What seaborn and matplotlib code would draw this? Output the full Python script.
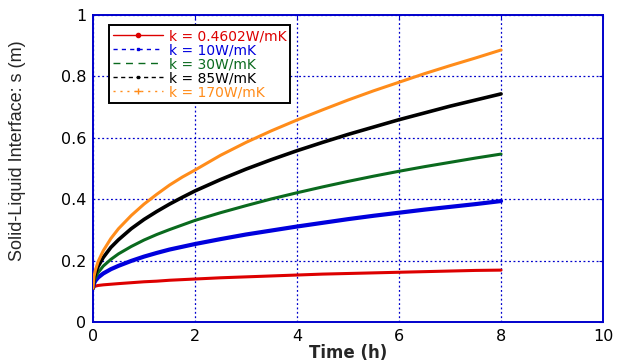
import matplotlib

matplotlib.use("Agg")

import matplotlib.pyplot as plt
import pandas as pd
import seaborn as sns
from matplotlib.lines import Line2D

# time (h) and interface position s (m)
time_h = [0, 0.02, 0.05, 0.1, 0.2, 0.35, 0.5, 0.75, 1, 1.25, 1.5, 1.75, 2,
          2.5, 3, 3.5, 4, 4.5, 5, 5.5, 6, 6.5, 7, 7.5, 8]
s_k0460 = [0.110, 0.115, 0.117, 0.119, 0.121, 0.123, 0.125, 0.128, 0.131, 0.133,
           0.136, 0.138, 0.140, 0.144, 0.147, 0.150, 0.153, 0.156, 0.158, 0.160,
           0.162, 0.164, 0.166, 0.168, 0.169]
s_k10 = [0.110, 0.126, 0.135, 0.145, 0.158, 0.172, 0.183, 0.199, 0.213, 0.225,
         0.236, 0.245, 0.254, 0.270, 0.285, 0.298, 0.311, 0.323, 0.335, 0.346,
         0.356, 0.366, 0.375, 0.384, 0.394]
s_k30 = [0.110, 0.133, 0.146, 0.161, 0.182, 0.204, 0.222, 0.246, 0.267, 0.285,
         0.301, 0.316, 0.331, 0.356, 0.379, 0.401, 0.421, 0.440, 0.458, 0.475,
         0.491, 0.506, 0.520, 0.534, 0.547]
s_k85 = [0.110, 0.142, 0.160, 0.181, 0.210, 0.243, 0.268, 0.304, 0.334, 0.360,
         0.384, 0.406, 0.427, 0.464, 0.498, 0.529, 0.558, 0.585, 0.611, 0.635,
         0.659, 0.681, 0.703, 0.723, 0.743]
s_k170 = [0.110, 0.149, 0.171, 0.197, 0.232, 0.272, 0.304, 0.347, 0.384, 0.416,
          0.446, 0.472, 0.495, 0.543, 0.585, 0.623, 0.658, 0.691, 0.723, 0.753,
          0.781, 0.809, 0.835, 0.860, 0.886]

labels = ["k = 0.4602W/mK", "k = 10W/mK", "k = 30W/mK", "k = 85W/mK", "k = 170W/mK"]
series = [s_k0460, s_k10, s_k30, s_k85, s_k170]
colors = ["#dd0000", "#0000dd", "#0a6a1e", "#000000", "#ff8c1a"]
widths = [2.2, 3.0, 2.2, 2.6, 2.2]
legend_styles = [
    dict(linestyle="-", marker="."),
    dict(linestyle=(0, (3, 3)), marker="s", markersize=2),
    dict(linestyle=(0, (5, 4)), marker=None),
    dict(linestyle=(0, (3, 2.5)), marker="s", markersize=2),
    dict(linestyle=(0, (1.5, 3.5)), marker="+", markersize=4),
]

sns.set_style("white")
plt.rcParams["font.family"] = ["DejaVu Sans"]

fig = plt.figure(figsize=(6.21, 3.64), dpi=100)
ax = fig.add_axes([0.1498, 0.1154, 0.8213, 0.8434])

for s, col, lw in zip(series, colors, widths):
    df = pd.DataFrame({"t": time_h, "s": s})
    sns.lineplot(data=df, x="t", y="s", color=col, linewidth=lw, ax=ax,
                 legend=False, zorder=3)

ax.set_xlim(0, 10)
ax.set_ylim(0, 1)
ax.set_xticks([0, 2, 4, 6, 8, 10])
ax.set_yticks([0, 0.2, 0.4, 0.6, 0.8, 1])
ax.set_yticklabels(["0", "0.2", "0.4", "0.6", "0.8", "1"])
ax.tick_params(direction="in", length=3, color="#0000cc", labelsize=11.5,
               labelcolor="black", top=True, right=True, pad=5)
ax.grid(True, color="#0000cc", linestyle=(0, (1.5, 2)), linewidth=0.9)
for sp in ax.spines.values():
    sp.set_color("#0000cc")
    sp.set_linewidth(1.4)

ax.set_xlabel("Time (h)", fontsize=12, fontweight="bold", labelpad=0)
ax.set_ylabel("Solid-Liquid Interface: s (m)", fontsize=13,
              family=["Liberation Sans Narrow", "Liberation Sans", "DejaVu Sans"])
ax.yaxis.set_label_coords(-0.132, 0.557)

handles = [Line2D([0], [0], color=c, linewidth=1.0, **st)
           for c, st in zip(colors, legend_styles)]
leg = ax.legend(handles, labels, loc="upper left", bbox_to_anchor=(0.031, 0.967),
                borderaxespad=0, fontsize=10, handlelength=3.6, labelspacing=0.0,
                handletextpad=0.4, borderpad=0.3, fancybox=False, framealpha=1,
                edgecolor="black")
leg.get_frame().set_linewidth(1.4)
for txt, col in zip(leg.get_texts(), colors):
    txt.set_color(col)

fig.savefig("out.png", dpi=100)
